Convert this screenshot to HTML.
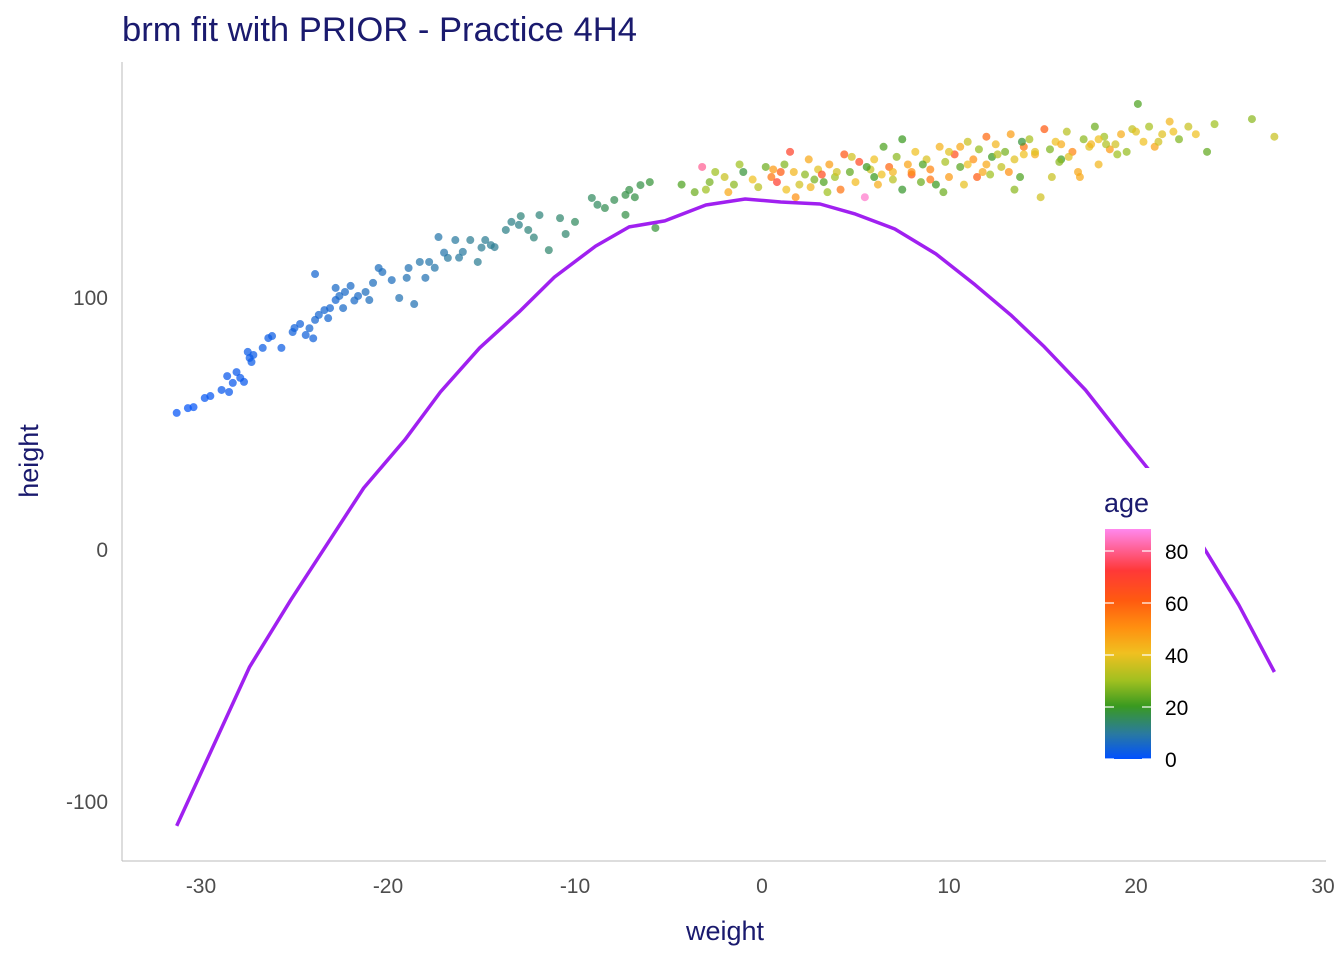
<!DOCTYPE html>
<html><head><meta charset="utf-8"><style>
body{margin:0;background:#fff;font-family:"Liberation Sans",sans-serif}
</style></head><body>
<svg id="chart" width="1344" height="960" xmlns="http://www.w3.org/2000/svg" font-family="Liberation Sans, sans-serif">
<defs>
<linearGradient id="ageGrad" x1="0" y1="1" x2="0" y2="0">
<stop offset="0" stop-color="#0050ff"/>
<stop offset="0.11" stop-color="#2a7aa0"/>
<stop offset="0.23" stop-color="#3a9a20"/>
<stop offset="0.34" stop-color="#a0c020"/>
<stop offset="0.46" stop-color="#f0c020"/>
<stop offset="0.57" stop-color="#ff9010"/>
<stop offset="0.69" stop-color="#ff5a10"/>
<stop offset="0.82" stop-color="#ff3838"/>
<stop offset="1" stop-color="#ff88ee"/>
</linearGradient>
</defs>
<text x="122" y="41" font-size="34.6" fill="#1a1a6e">brm fit with PRIOR - Practice 4H4</text>
<line x1="122" y1="62" x2="122" y2="861" stroke="#bbb" stroke-width="1"/>
<line x1="122" y1="861" x2="1326" y2="861" stroke="#bbb" stroke-width="1"/>
<g id="xticks"></g><g id="yticks"></g>
<g id="points"></g>
<path id="fitline" fill="none" stroke="#a020f0" stroke-width="3.5" stroke-linejoin="round"/>
<text x="725" y="940" font-size="27" fill="#1a1a6e" text-anchor="middle">weight</text>
<text transform="translate(38,461) rotate(-90)" font-size="27" fill="#1a1a6e" text-anchor="middle">height</text>
<g>
<rect x="1090" y="468" width="115" height="305" fill="#fff"/>
<text x="1104" y="512" font-size="27" fill="#1a1a6e">age</text>
<rect x="1105" y="529" width="46" height="230" fill="url(#ageGrad)"/>
<g id="legticks"></g>
</g>
</svg>
<script>
const xTicks=[-30,-20,-10,0,10,20,30];
const yTicks=[-100,0,100];
const ageTicks=[0,20,40,60,80];
const fitW=[-31.3,-27.4,-25.2,-21.3,-19.1,-17.2,-15.1,-13.0,-11.1,-8.9,-7.1,-5.2,-3.0,-0.9,1.0,3.1,5.0,7.1,9.3,11.4,13.3,15.1,17.3,19.4,20.7,22.5,23.7,25.5,27.4];
const fitH=[-109.5,-46.4,-19.8,24.6,43.7,62.7,80.2,94.4,108.3,120.6,128.2,130.6,136.9,139.3,138.1,137.3,133.3,127.4,117.5,105.2,93.3,80.6,63.5,43.7,31.7,14,0,-21.8,-48.4];
const ptW=[-31.3,-30.7,-30.4,-29.8,-29.5,-28.9,-28.5,-28.3,-28.1,-27.9,-27.7,-27.4,-27.3,-27.5,-27.2,-26.4,-26.2,-26.7,-25.7,-25.1,-25.0,-24.7,-24.4,-23.9,-23.7,-23.4,-23.1,-22.8,-22.6,-22.3,-23.9,-22.8,-22.0,-21.6,-21.2,-21.0,-20.5,-20.3,-19.8,-19.4,-18.6,-18.9,-18.3,-17.8,-17.3,-16.8,-16.4,-16.0,-15.6,-15.2,-14.8,-14.3,-13.7,-13.4,-12.9,-12.5,-11.9,-11.4,-10.8,-10.5,-10.0,-9.1,-8.4,-7.9,-7.3,-7.1,-6.5,-6.0,-5.7,-7.3,-24.2,-22.4,-17.5,-15.0,-18.0,-28.6,
-24.0,-23.2,-21.8,-20.8,-19.0,-17.0,-16.2,-14.5,-13.0,-12.2,-8.8,-6.8,
-4.3,-3.6,-3.2,-3.0,-2.5,-2.0,-1.8,-1.5,-1.0,-0.5,-0.2,0.2,0.5,0.8,1.0,1.3,1.5,1.8,2.0,2.3,2.6,3.0,3.3,3.6,3.9,4.2,4.4,4.7,5.0,5.2,5.5,5.8,6.0,6.2,6.5,6.8,7.0,7.2,7.5,7.8,8.0,8.2,8.5,8.8,9.0,9.3,9.5,9.8,10.0,10.3,10.6,10.8,11.0,11.3,11.6,11.8,12.0,12.3,12.5,12.8,13.0,13.3,13.5,13.8,14.0,14.3,14.6,14.9,15.1,15.4,15.7,16.0,16.3,16.6,16.9,17.2,17.5,17.8,18.0,18.3,18.6,18.9,19.2,19.5,19.8,20.1,20.4,20.7,21.0,21.4,21.8,22.3,22.8,23.2,23.8,24.2,26.2,27.4,
2.5,4,6,8,10,12,14,16,18,20,-2.8,1.7,3.5,9.7,13.5,15.5,17,11.5,7.5,
-1.2,0.6,2.8,4.8,6.4,8.6,10.6,12.6,13.2,14.6,15.9,17.6,19.0,21.2,22.0,3.2,5.6,9.0,11.0,12.2,13.9,16.4,18.4,7.0,1.2];
const ptH=[54.4,56.3,56.7,60.3,61.1,63.5,62.7,66.3,70.6,68.3,66.7,76.2,74.6,78.6,77.4,84.1,84.9,80.2,80.2,86.5,88.1,89.7,85.3,91.3,93.3,95.2,96.0,99.2,100.8,102.4,109.5,104.0,104.8,100.8,102.4,99.2,111.9,110.3,107.1,100.0,97.6,111.9,114.3,114.3,124.2,115.9,123.0,118.3,123.0,114.3,123.0,120.2,127.0,130.2,132.5,127.0,132.9,119.0,131.7,125.4,130.2,139.7,135.7,138.9,140.9,142.9,144.8,146.0,127.8,133.0,88,96,112,120,108,69,
84,92,99,106,108,118,116,121,129,124,137,140,
145,142,152,143,150,148,142,145,150,147,144,152,148,146,150,143,158,140,145,149,144,151,146,153,148,143,157,150,146,154,140,151,148,145,160,152,147,156,143,153,149,158,146,155,151,145,160,154,148,157,152,145,162,155,159,150,164,156,161,152,158,165,155,148,160,163,157,140,167,159,162,155,166,158,150,163,160,168,153,164,159,161,165,158,167,177,162,168,160,165,170,163,168,165,158,169,171,164,
155,150,155,150,158,153,157,161,163,166,146,150,142,142,143,148,148,148,163,
153,151,147,156,149,153,160,157,150,158,154,161,157,162,166,149,152,147,153,149,162,156,161,150,153];
const ptAge=[1,1,1,1.5,1.5,2,2,2,2,2,2,2.5,2.5,2.5,2.5,3,3,3,3,4,4,4,4,5,5,5,5,5,6,6,5,6,6,6,7,7,7,7,7,8,8,8,9,9,9,10,10,10,11,11,11,11,12,12,13,13,13,14,14,14,15,15,16,16,17,17,17,18,18,17,5,6,9,11,8,2,
4,5,6,7,8,9,10,11,12,13,15,17,
22,25,80,30,30,35,45,28,18,40,33,25,55,70,60,40,68,50,36,28,42,38,22,47,30,55,61,24,41,66,85,35,20,44,22,58,33,28,19,46,62,40,25,37,52,20,43,31,48,64,23,39,35,50,29,45,57,20,42,34,26,47,38,22,55,31,44,36,60,27,40,21,33,52,45,28,38,25,42,30,48,36,44,29,34,22,40,31,46,38,42,27,35,40,24,30,28,35,
45,36,40,50,38,45,40,44,40,38,26,42,30,25,28,35,45,60,20,
30,48,26,36,40,22,45,33,50,38,28,42,30,36,40,65,20,55,40,30,18,38,32,42,27];

const X=w=>762+(w)*18.7, Y=h=>550-h*2.52;
const NS="http://www.w3.org/2000/svg";
const xg=document.getElementById('xticks'), yg=document.getElementById('yticks');
xTicks.forEach(t=>{
 const tx=document.createElementNS(NS,'text');
 
 
 tx.setAttribute('x',X(t));tx.setAttribute('y',893);tx.setAttribute('font-size','21');tx.setAttribute('fill','#4d4d4d');tx.setAttribute('text-anchor','middle');
 tx.textContent=t;xg.appendChild(tx);
});
yTicks.forEach(t=>{
 const tx=document.createElementNS(NS,'text');
 
 
 tx.setAttribute('x',108);tx.setAttribute('y',Y(t)+7);tx.setAttribute('font-size','21');tx.setAttribute('fill','#4d4d4d');tx.setAttribute('text-anchor','end');
 tx.textContent=t;yg.appendChild(tx);
});
const stops=[[0,[0,80,255]],[10,[42,122,160]],[20,[58,154,32]],[30,[160,192,32]],[40,[240,192,32]],[50,[255,144,16]],[60,[255,90,16]],[72,[255,56,56]],[88,[255,136,238]]];
function col(a){
 for(let i=0;i<stops.length-1;i++){const [a0,c0]=stops[i],[a1,c1]=stops[i+1];
  if(a<=a1){const f=Math.max(0,(a-a0)/(a1-a0));return 'rgb('+c0.map((c,k)=>Math.round(c+(c1[k]-c)*f)).join(',')+')';}}
 return 'rgb(255,136,238)';
}
const pg=document.getElementById('points');
ptW.forEach((w,i)=>{
 const c=document.createElementNS(NS,'circle');
 
 
 c.setAttribute('cx',X(w));c.setAttribute('cy',Y(ptH[i]));c.setAttribute('r','4');
 c.setAttribute('fill',col(ptAge[i]));c.setAttribute('fill-opacity','0.72');
 pg.appendChild(c);
});
document.getElementById('fitline').setAttribute('d',fitW.map((w,i)=>(i?'L':'M')+X(w).toFixed(1)+','+Y(fitH[i]).toFixed(1)).join(''));
const lg=document.getElementById('legticks');
const AY=a=>759-a*2.6;
ageTicks.forEach(a=>{
 [1105,1142].forEach(x0=>{const l=document.createElementNS(NS,'line');
  
  
  l.setAttribute('x1',x0);l.setAttribute('x2',x0+9);l.setAttribute('y1',AY(a));l.setAttribute('y2',AY(a));l.setAttribute('stroke','#fff');l.setAttribute('stroke-width','1.2');lg.appendChild(l);});
 const t=document.createElementNS(NS,'text');
 
 
 t.setAttribute('x',1165);t.setAttribute('y',AY(a)+8);t.setAttribute('font-size','21');t.setAttribute('fill','#000');
 t.textContent=a;lg.appendChild(t);
});
</script>
</body></html>
